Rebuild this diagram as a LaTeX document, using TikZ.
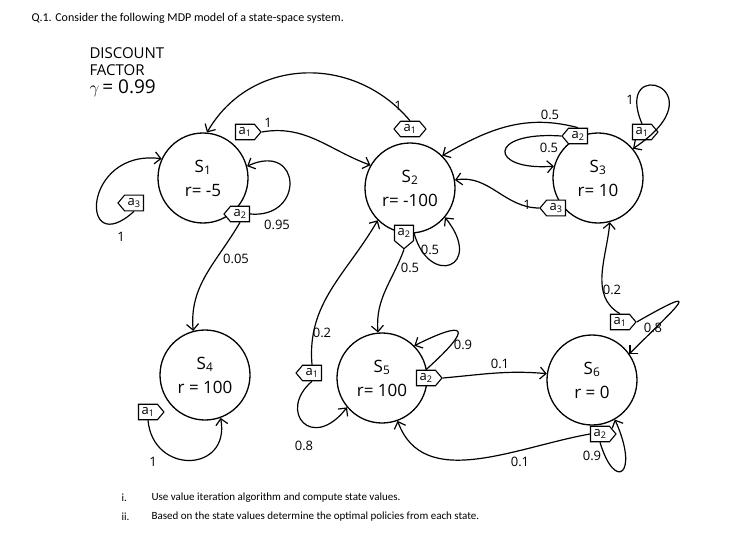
\documentclass[tikz,border=0pt]{standalone}
\usepackage{fontspec}
\setmainfont{Carlito}
\newfontfamily\hand{Open Sans}
\usetikzlibrary{arrows.meta,shapes.symbols}
\begin{document}
\begin{tikzpicture}[x=1pt,y=-1pt,
  st/.style={circle,draw,line width=1.3pt,minimum size=90pt,inner sep=0pt,font=\hand\fontsize{17}{18}\selectfont,align=center},
  act/.style={signal,draw,line width=1.1pt,fill=white,inner xsep=3pt,inner ysep=3pt,font=\hand\fontsize{13}{13}\selectfont,signal pointer angle=100},
  ed/.style={line width=1.2pt,-{Straight Barb[length=6pt,width=12pt]}},
  lb/.style={font=\hand\fontsize{13}{13}\selectfont,inner sep=1pt}]
\useasboundingbox (0,0) rectangle (734,535);
\node[anchor=west,font=\fontsize{12}{14}\selectfont] (q) at (28,18) {Q.1. Consider the following MDP model of a state-space system.};
\node[anchor=north west,align=left,font=\hand\fontsize{15}{17}\selectfont] (df) at (86,44) {DISCOUNT\\FACTOR\\[1pt]\fontsize{19}{20}\selectfont $\gamma$\,= 0.99};

\node[st] (s1) at (203,178) {S\textsubscript{1}\\[6pt]r= -5};
\node[st] (s2) at (410,188) {S\textsubscript{2}\\[6pt]r= -100};
\node[st] (s3) at (598,178) {S\textsubscript{3}\\[6pt]r= 10};
\node[st] (s4) at (205,375) {S\textsubscript{4}\\[6pt]r = 100};
\node[st] (s5) at (382,378) {S\textsubscript{5}\\[6pt]r= 100};
\node[st] (s6) at (592,380) {S\textsubscript{6}\\[6pt]r = 0};

% actions
\node[act,signal to=east] (s1a1) at (245,132) {a\textsubscript{1}};
\node[act,signal to=west] (s1a2) at (240,214) {a\textsubscript{2}};
\node[act,signal to=west] (s1a3) at (134,203) {a\textsubscript{3}};
\node[act,signal to=east and west] (s2a1) at (410,129) {a\textsubscript{1}};
\node[act,signal to=south] (s2a2) at (404,233) {a\textsubscript{2}};
\node[act,signal to=west] (s3a2) at (578,136) {a\textsubscript{2}};
\node[act,signal to=west] (s3a3) at (556,208) {a\textsubscript{3}};
\node[act,signal to=east] (s3a1) at (642,132) {a\textsubscript{1}};
\node[act,signal to=east] (s4a1) at (148,412) {a\textsubscript{1}};
\node[act,signal to=west] (s5a1) at (312,373) {a\textsubscript{1}};
\node[act,signal to=east] (s5a2) at (426,378) {a\textsubscript{2}};
\node[act,signal to=east] (s6a1) at (620,322) {a\textsubscript{1}};
\node[act,signal to=east] (s6a2) at (600,434) {a\textsubscript{2}};

% S1
\draw[ed] (s1a1.east) to[out=10,in=160] (s2.150);
\draw[ed] (s1a2.east) .. controls +(55,5) and +(55,-25) .. (s1.15);
\draw[ed] (s1a2.south) to[out=-120,in=95] (s4.105);
\draw[ed] (s1a3.south) .. controls +(-55,50) and +(-80,-10) .. (s1.155);
% S2
\draw[ed] (s2a1.north) to[out=130,in=60,looseness=1.1] (s1.85);
\draw[ed] (s2a2.east) .. controls +(15,55) and +(40,50) .. (s2.-40);
\draw[ed] (s2a2.south) to[out=-110,in=95] (s5.95);
% S3
\draw[ed] (s3a2.north) to[out=165,in=30] (s2.45);
\draw[ed] (s3a2.west) .. controls +(-75,-5) and +(-65,5) .. (s3.165);
\draw[ed] (s3a3.west) to[out=180,in=10] (s2.10);
\draw[ed] (s3a1.north) .. controls +(-30,-70) and +(90,-60) .. (s3.40);
% S4
\draw[ed] (s4a1.south) .. controls +(5,55) and +(10,55) .. (s4.-70);
% S5
\draw[ed] (s5a1.north) to[out=95,in=-120] (s2.-135);
\draw[ed] (s5a1.south) .. controls +(-35,30) and +(-35,45) .. (s5.-140);
\draw[ed] (s5a2.north) .. controls +(50,-45) and +(50,-25) .. (s5.45);
\draw[ed] (s5a2.east) to[out=5,in=175] (s6.172);
% S6
\draw[ed] (s6a1.north) to[out=150,in=-95] (s3.-75);
\draw[ed] (s6a1.east) .. controls +(70,-40) and +(50,-50) .. (s6.35);
\draw[ed] (s6a2.south) .. controls +(15,50) and +(25,55) .. (s6.-60);
\draw[ed] (s6a2.west) to[out=190,in=-70] (s5.-70);

% probability labels
\node[lb] (p1) at (268,123) {1};
\node[lb] (p2) at (398,106) {1};
\node[lb] (p3) at (277,225) {0.95};
\node[lb] (p4) at (236,259) {0.05};
\node[lb] (p5) at (121,237) {1};
\node[lb] (p6) at (430,250) {0.5};
\node[lb] (p7) at (410,268) {0.5};
\node[lb] (p8) at (550,115) {0.5};
\node[lb] (p9) at (549,148) {0.5};
\node[lb] (p10) at (527,205) {1};
\node[lb] (p11) at (630,100) {1};
\node[lb] (p12) at (612,290) {0.2};
\node[lb] (p13) at (653,328) {0.8};
\node[lb] (p14) at (463,345) {0.9};
\node[lb] (p15) at (500,364) {0.1};
\node[lb] (p16) at (322,333) {0.2};
\node[lb] (p17) at (304,446) {0.8};
\node[lb] (p18) at (153,462) {1};
\node[lb] (p19) at (520,462) {0.1};
\node[lb] (p20) at (592,456) {0.9};

\node[anchor=west,font=\fontsize{11}{13}\selectfont] (i1) at (118,498) {i.};
\node[anchor=west,font=\fontsize{11}{13}\selectfont] (i2) at (118,517) {ii.};
\node[anchor=west,font=\fontsize{11}{13}\selectfont] (t1) at (148,498) {Use value iteration algorithm and compute state values.};
\node[anchor=west,font=\fontsize{11}{13}\selectfont] (t2) at (148,517) {Based on the state values determine the optimal policies from each state.};
\end{tikzpicture}
\end{document}
